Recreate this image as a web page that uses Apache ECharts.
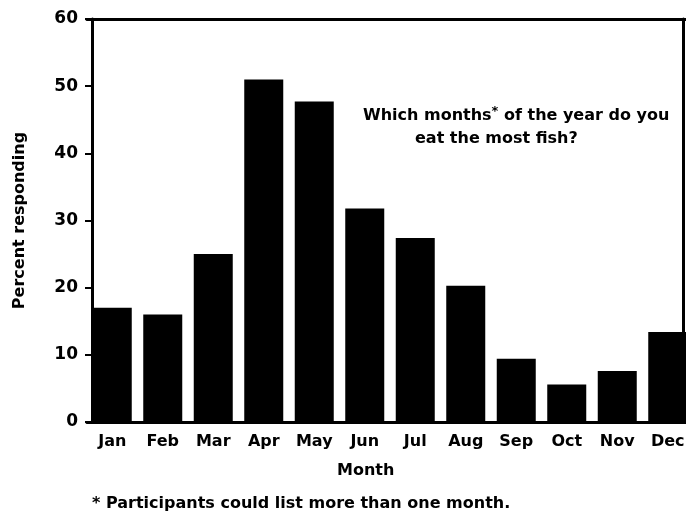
<!DOCTYPE html>
<html>
<head>
<meta charset="utf-8">
<script src="https://cdn.jsdelivr.net/npm/echarts@6/dist/echarts.min.js"></script>
<style>
  html, body { margin: 0; padding: 0; background: #fff; }
  #fishChart { width: 686px; height: 518px; }
</style>
</head>
<body>
<div id="fishChart"></div>
<script>
  // months and percent responding
  const months = ['Jan', 'Feb', 'Mar', 'Apr', 'May', 'Jun', 'Jul', 'Aug', 'Sep', 'Oct', 'Nov', 'Dec']
  const percentResponding = [17, 16, 25, 51, 47.7, 31.8, 27.4, 20.3, 9.4, 5.6, 7.6, 13.4]
  const yTicks = [0, 10, 20, 30, 40, 50, 60]

  const font = '"DejaVu Sans", Verdana, sans-serif'
  const ink = '#000'

  let myChart = echarts.init(document.getElementById('fishChart'))
  const option = {
    animation: false,
    backgroundColor: '#fff',
    textStyle: { fontFamily: font, color: ink, fontWeight: 'bold' },
    grid: {
      left: 87,
      right: -7,
      top: 19,
      bottom: 96,
      containLabel: false,
      outerBoundsMode: 'none'
    },
    xAxis: [
      {
        type: 'category',
        data: months,
        axisLine: { onZero: false, lineStyle: { color: ink, width: 3 } },
        axisTick: { alignWithLabel: true, length: 6, lineStyle: { color: ink, width: 2 } },
        axisLabel: { color: ink, fontSize: 16, fontWeight: 'bold', fontFamily: font, margin: 12 }
      },
      {
        // top frame line
        type: 'category',
        position: 'top',
        data: months,
        axisLine: { onZero: false, lineStyle: { color: ink, width: 3 } },
        axisTick: { show: false },
        axisLabel: { show: false }
      }
    ],
    yAxis: [
      {
        type: 'value',
        min: yTicks[0],
        max: yTicks[yTicks.length - 1],
        interval: 10,
        offset: -5,
        name: 'Percent responding',
        nameLocation: 'middle',
        nameGap: 64,
        nameTextStyle: { color: ink, fontSize: 16, fontWeight: 'bold', fontFamily: font },
        axisLine: { show: true, onZero: false, lineStyle: { color: ink, width: 3 } },
        axisTick: { show: true, length: 7, lineStyle: { color: ink, width: 2 } },
        axisLabel: { color: ink, fontSize: 17, fontWeight: 'bold', fontFamily: font, margin: 14 },
        splitLine: { show: false }
      },
      {
        // right frame line
        type: 'value',
        position: 'right',
        min: yTicks[0],
        max: yTicks[yTicks.length - 1],
        interval: 10,
        offset: -10,
        axisLine: { show: true, onZero: false, lineStyle: { color: ink, width: 3 } },
        axisTick: { show: false },
        axisLabel: { show: false },
        splitLine: { show: false }
      }
    ],
    graphic: [
      {
        type: 'text',
        left: 363,
        top: 105,
        style: {
          text: '{t|Which months}{s|*}{t| of the year do you}',
          rich: {
            t: { fontSize: 16, fontWeight: 'bold', fontFamily: font, fill: ink, lineHeight: 21 },
            s: { fontSize: 13, fontWeight: 'bold', fontFamily: font, fill: ink, lineHeight: 21, verticalAlign: 'top', padding: [0, 0, 8, 0] }
          }
        }
      },
      {
        type: 'text',
        left: 415,
        top: 131,
        style: { text: 'eat the most fish?', fontSize: 16, fontWeight: 'bold', fontFamily: font, fill: ink }
      },
      {
        type: 'text',
        left: 337,
        top: 463,
        style: { text: 'Month', fontSize: 16, fontWeight: 'bold', fontFamily: font, fill: ink }
      },
      {
        type: 'text',
        left: 92,
        top: 496,
        style: { text: '* Participants could list more than one month.', fontSize: 16, fontWeight: 'bold', fontFamily: font, fill: ink }
      }
    ],
    series: [
      {
        name: 'Percent responding',
        type: 'bar',
        barWidth: 39,
        itemStyle: { color: ink },
        data: percentResponding
      }
    ]
  }
  myChart.setOption(option)
</script>
</body>
</html>
